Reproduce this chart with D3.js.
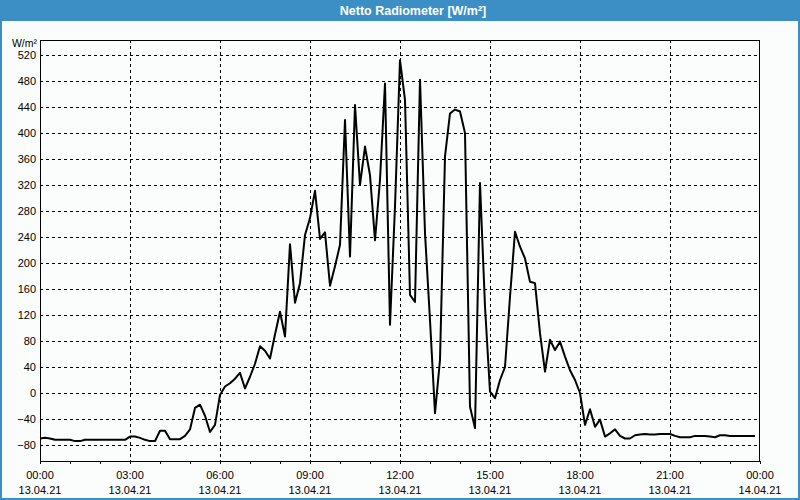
<!DOCTYPE html>
<html><head><meta charset="utf-8">
<script src="https://cdn.jsdelivr.net/npm/d3@7"></script>
<style>body{margin:0;background:#fff}svg{display:block}</style>
</head><body><svg id="c" width="800" height="500"></svg>
<script>
const chartTitle = "Netto Radiometer [W/m²]";
const unitLabel = "W/m²";
const startTime = "2021-04-13T00:00:00";
const endTime = "2021-04-14T00:00:00";
const stepMinutes = 10;
// 10-minute samples from 00:00
const values = [
  -70,-69,-70,-72,-72,-72,-72,-74,-74,-72,
  -72,-72,-72,-72,-72,-72,-72,-72,-67,-67,
  -69,-72,-74,-74,-58,-58,-71,-71,-71,-66,
  -56,-23,-18,-35,-60,-49,-3,10,15,22,
  31,7,25,45,72,65,53,90,125,87,
  229,139,169,243,269,311,237,247,165,195,
  228,420,210,443,320,379,335,235,328,476,
  105,287,512,451,151,140,482,246,112,-31,
  51,364,430,436,433,400,-21,-54,323,133,
  2,-8,20,40,148,248,225,207,171,169,
  92,33,82,66,79,56,35,20,0,-49,
  -25,-52,-41,-67,-62,-56,-66,-70,-70,-65,
  -64,-63,-64,-64,-63,-63,-63,-66,-68,-68,
  -68,-66,-66,-66,-67,-68,-65,-65,-66,-66,
  -66,-66,-66,-66
];
const yTicks = [-80,-40,0,40,80,120,160,200,240,280,320,360,400,440,480,520];
const xTickHours = [0,3,6,9,12,15,18,21,24];

const svg = d3.select("#c");
const W = 800, H = 500;
const m = {left: 40, right: 760, top: 40, bottom: 461};
const blue = "#3c8fc4";

svg.append("rect").attr("x",0).attr("y",0).attr("width",W).attr("height",H).attr("fill","#fafdfb");
svg.append("rect").attr("x",0).attr("y",0).attr("width",W).attr("height",21).attr("fill",blue);
svg.append("rect").attr("x",1).attr("y",1).attr("width",W-2).attr("height",H-2)
  .attr("fill","none").attr("stroke",blue).attr("stroke-width",2);
svg.append("text").attr("x",413).attr("y",15).attr("text-anchor","middle")
  .attr("font-family","Liberation Sans, Arial, sans-serif").attr("font-weight","bold")
  .attr("font-size","12.5px").attr("fill","#fff").text(chartTitle);

const parse = d3.timeParse("%Y-%m-%dT%H:%M:%S");
const t0 = parse(startTime), t1 = parse(endTime);
const data = values.map((v,i)=>({t: d3.timeMinute.offset(t0, i*stepMinutes), v}));

const x = d3.scaleTime().domain([t0,t1]).range([m.left,m.right]);
const y = d3.scaleLinear().domain([-104.6,543]).range([m.bottom,m.top]);

const font = "Liberation Sans, Arial, sans-serif";
const g = svg.append("g");

// horizontal grid
g.selectAll(".hg").data(yTicks).join("line")
  .attr("x1",m.left).attr("x2",m.right)
  .attr("y1",d=>Math.round(y(d))+0.5).attr("y2",d=>Math.round(y(d))+0.5)
  .attr("stroke","#000").attr("stroke-width",1).attr("stroke-dasharray","3,3");
// vertical grid
const vTimes = xTickHours.slice(1,-1).map(h=>d3.timeHour.offset(t0,h));
g.selectAll(".vg").data(vTimes).join("line")
  .attr("x1",d=>Math.round(x(d))+0.5).attr("x2",d=>Math.round(x(d))+0.5)
  .attr("y1",m.top).attr("y2",m.bottom)
  .attr("stroke","#000").attr("stroke-width",1).attr("stroke-dasharray","3,3");

// x axis ticks hourly
const hourTicks = d3.range(0,25).map(h=>d3.timeHour.offset(t0,h));
const xAxis = d3.axisBottom(x).tickValues(hourTicks).tickSize(3).tickFormat("");
const xa = svg.append("g").attr("transform",`translate(0,${m.bottom})`).call(xAxis);
xa.select(".domain").remove();
xa.selectAll("line").attr("stroke","#000");

// x labels
const labTimes = xTickHours.map(h=>d3.timeHour.offset(t0,h));
const fH = d3.timeFormat("%H:%M"), fD = d3.timeFormat("%d.%m.%y");
const xl = svg.append("g").selectAll("text").data(labTimes).join("text")
  .attr("x",d=>x(d)).attr("text-anchor","middle")
  .attr("font-family",font).attr("font-size","11px").attr("fill","#000");
xl.append("tspan").attr("x",d=>x(d)).attr("y",479).text(d=>fH(d));
xl.append("tspan").attr("x",d=>x(d)).attr("y",494).text(d=>fD(d));

// y labels via axis
const yAxis = d3.axisLeft(y).tickValues(yTicks).tickSize(0).tickPadding(4).tickFormat(d3.format("d"));
const ya = svg.append("g").attr("transform",`translate(${m.left},0)`).call(yAxis);
ya.select(".domain").remove();
ya.selectAll("text").attr("font-family",font).attr("font-size","11px").attr("fill","#000");

svg.append("text").attr("x",37).attr("y",47).attr("text-anchor","end")
  .attr("font-family",font).attr("font-size","10.5px").attr("fill","#000").text(unitLabel);

// plot border
svg.append("rect").attr("x",m.left+0.5).attr("y",m.top+0.5)
  .attr("width",m.right-m.left-1).attr("height",m.bottom-m.top)
  .attr("fill","none").attr("stroke","#000").attr("stroke-width",1);

// line
const line = d3.line().x(d=>x(d.t)).y(d=>y(d.v));
svg.append("path").datum(data).attr("d",line).attr("fill","none")
  .attr("stroke","#000").attr("stroke-width",2).attr("stroke-linejoin","round");
</script></body></html>
